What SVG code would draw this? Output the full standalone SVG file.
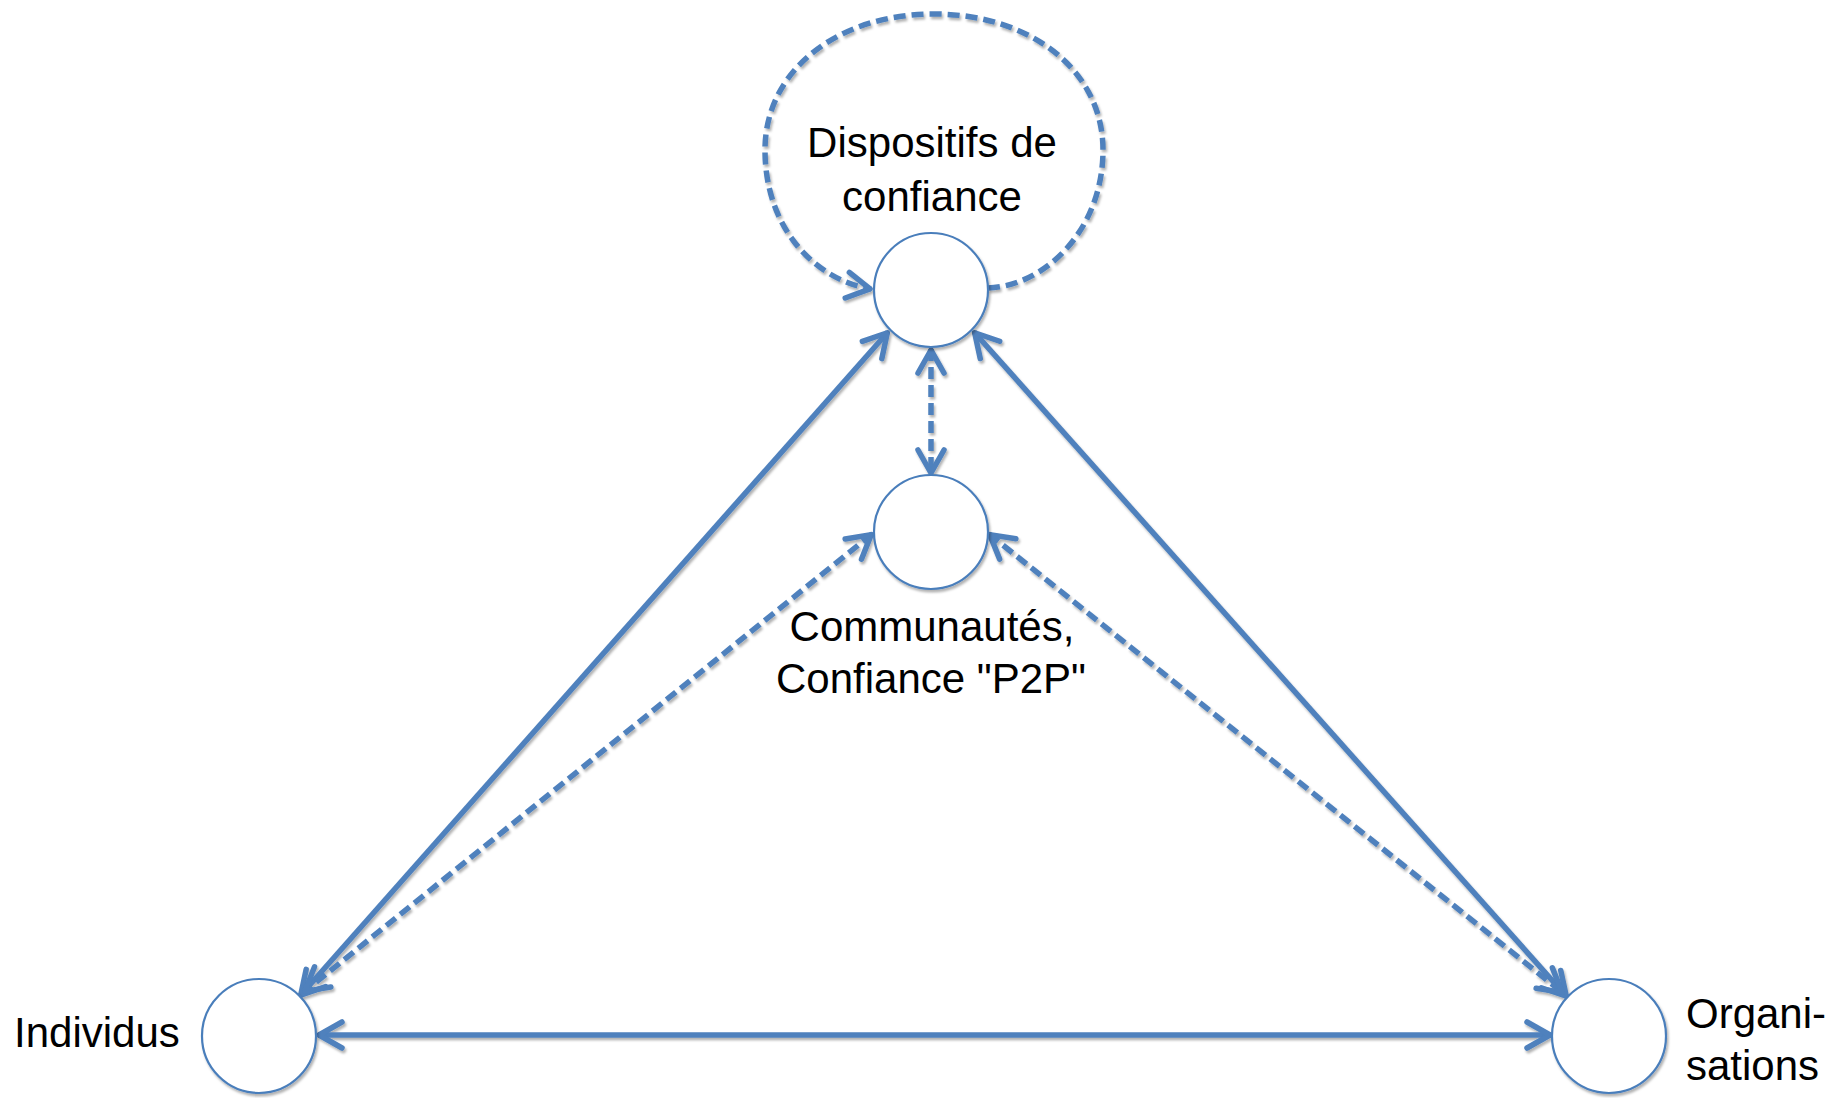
<svg xmlns="http://www.w3.org/2000/svg" width="1832" height="1098" viewBox="0 0 1832 1098">
<style>
.node{fill:#fff;stroke:#4A7EBB;stroke-width:2.2}
.lbl{font-family:"Liberation Sans",Arial,sans-serif;font-size:42px;fill:#000}
.c{fill:none;stroke:#4F81BD;stroke-width:5.5;stroke-linecap:butt}
.d{stroke-dasharray:12 6}
</style>
<defs>
<filter id="sh" x="-10%" y="-10%" width="120%" height="120%">
<feDropShadow dx="1.5" dy="2.5" stdDeviation="1" flood-color="#000" flood-opacity="0.3"/>
</filter>
<marker id="a" markerUnits="userSpaceOnUse" viewBox="-30 -18 34 36" refX="0" refY="0" markerWidth="34" markerHeight="36" orient="auto-start-reverse">
<path d="M -24 -13 L -1 0 L -24 13" fill="none" stroke="#4F81BD" stroke-width="5.5" stroke-linecap="round" stroke-linejoin="round"/>
</marker>
</defs>
<rect width="1832" height="1098" fill="#fff"/>
<g id="connectors" filter="url(#sh)">
<path class="c d" d="M 988 288 C 1045 286 1103 230 1103 150 C 1103 70 1030 14 934 14 C 838 14 765 70 765 150 C 765 228 815 280 871 289" marker-end="url(#a)"/>
<line class="c" x1="888" y1="332" x2="300" y2="996" marker-start="url(#a)" marker-end="url(#a)"/>
<line class="c" x1="974" y1="332" x2="1567" y2="997" marker-start="url(#a)" marker-end="url(#a)"/>
<line class="c" x1="318" y1="1035" x2="1551" y2="1035" marker-start="url(#a)" marker-end="url(#a)"/>
<line class="c d" x1="931" y1="349" x2="931" y2="474" marker-start="url(#a)" marker-end="url(#a)"/>
<line class="c d" x1="872" y1="534" x2="304" y2="992" marker-start="url(#a)" marker-end="url(#a)"/>
<line class="c d" x1="989" y1="534" x2="1563" y2="993" marker-start="url(#a)" marker-end="url(#a)"/>
</g>
<g id="node-dispositifs" filter="url(#sh)">
<circle class="node" cx="931" cy="290" r="57"/>
</g>
<text class="lbl" x="932" y="157" text-anchor="middle">Dispositifs de</text>
<text class="lbl" x="932" y="211" text-anchor="middle">confiance</text>
<g id="node-communautes" filter="url(#sh)">
<circle class="node" cx="931" cy="532" r="57"/>
</g>
<text class="lbl" x="932" y="641" text-anchor="middle">Communautés,</text>
<text class="lbl" x="931" y="693" text-anchor="middle">Confiance "P2P"</text>
<g id="node-individus" filter="url(#sh)">
<circle class="node" cx="259" cy="1036" r="57"/>
</g>
<text class="lbl" x="14" y="1047">Individus</text>
<g id="node-organisations" filter="url(#sh)">
<circle class="node" cx="1609" cy="1036" r="57"/>
</g>
<text class="lbl" x="1686" y="1028">Organi-</text>
<text class="lbl" x="1686" y="1080">sations</text>
</svg>
